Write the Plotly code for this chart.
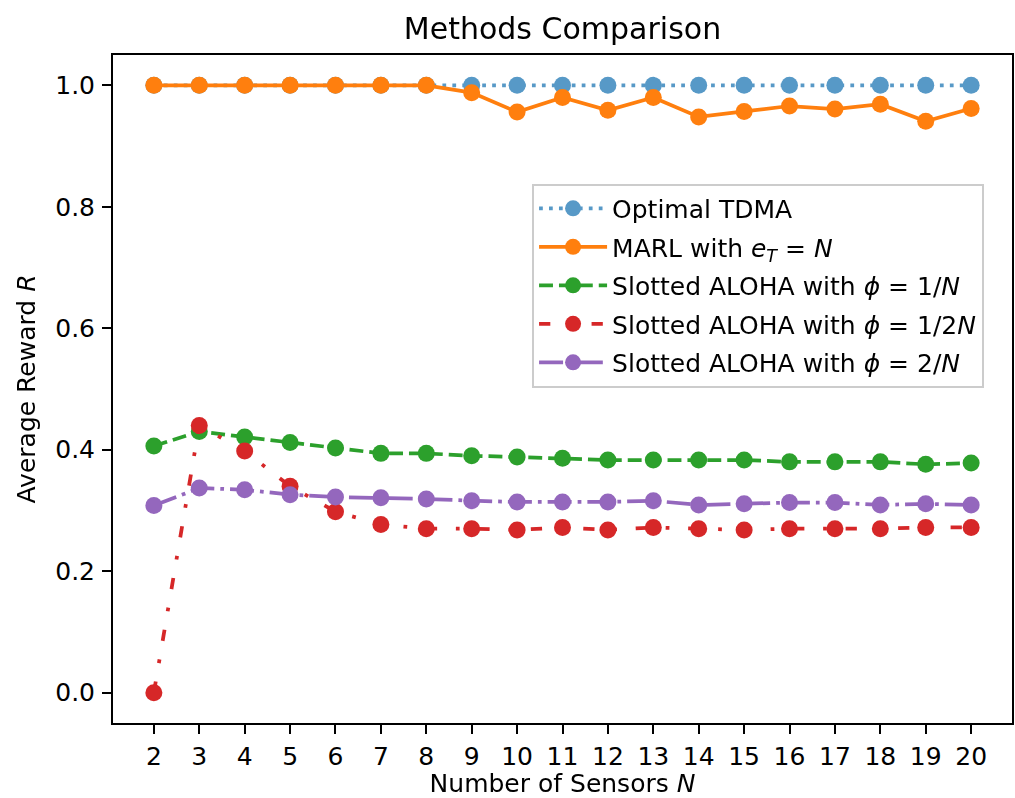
import plotly.graph_objects as go

N = list(range(2, 21))

optimal_tdma = [1.0] * 19
marl = [1.0, 1.0, 1.0, 1.0, 1.0, 1.0, 1.0, 0.988, 0.956, 0.980, 0.959, 0.980,
        0.948, 0.957, 0.966, 0.961, 0.969, 0.941, 0.962]
aloha_1n = [0.406, 0.430, 0.421, 0.412, 0.403, 0.394, 0.394, 0.390, 0.388, 0.386,
            0.383, 0.383, 0.383, 0.383, 0.380, 0.380, 0.380, 0.376, 0.378]
aloha_12n = [0.0, 0.440, 0.398, 0.340, 0.298, 0.277, 0.270, 0.270, 0.268, 0.272,
             0.268, 0.272, 0.270, 0.268, 0.270, 0.270, 0.270, 0.272, 0.272]
aloha_2n = [0.308, 0.337, 0.334, 0.326, 0.322, 0.321, 0.319, 0.316, 0.314, 0.314,
            0.314, 0.316, 0.309, 0.311, 0.313, 0.313, 0.309, 0.311, 0.309]

names = [
    "Optimal TDMA",
    "MARL with <i>e</i><sub><i>T</i></sub> = <i>N</i>",
    "Slotted ALOHA with <i>ϕ</i> = 1/<i>N</i>",
    "Slotted ALOHA with <i>ϕ</i> = 1/2<i>N</i>",
    "Slotted ALOHA with <i>ϕ</i> = 2/<i>N</i>",
]
series = [optimal_tdma, marl, aloha_1n, aloha_12n, aloha_2n]
colors = ["#1f77b4", "#ff7f0e", "#2ca02c", "#d62728", "#9467bd"]
dashes = ["3.75px,6.2px", "solid", "13.9px,6px",
          "11.25px,18.75px,3.75px,18.75px", "24px,6px,3.75px,6px"]
opacities = [0.75, 1, 1, 1, 1]

FONT = "DejaVu Sans, Liberation Sans, sans-serif"
FS = 25

fig = go.Figure()
for i, (nm, ys, c, d, op) in enumerate(zip(names, series, colors, dashes, opacities)):
    fig.add_trace(go.Scatter(
        x=N, y=ys, name=nm, mode="lines+markers",
        line=dict(color=c, width=3.75, dash=d),
        marker=dict(color=c, size=17, line=dict(width=0)),
        opacity=op, legendgroup=f"g{i}",
    ))

fig.update_layout(
    width=1015, height=798,
    margin=dict(l=113, r=1, t=55, b=73),
    paper_bgcolor="white", plot_bgcolor="white",
    font=dict(family=FONT, size=FS, color="black"),
    title=dict(text="Methods Comparison", x=0.5, xref="paper", xanchor="center",
               y=1 - 28 / 798, yref="container", yanchor="middle",
               font=dict(size=30, family=FONT, color="black")),
    showlegend=True,
    legend=dict(
        x=(533 - 113) / 901, y=(725 - 184) / 670, xanchor="left", yanchor="top",
        bgcolor="rgba(255,255,255,0.8)", bordercolor="#cccccc", borderwidth=2,
        font=dict(size=FS, family=FONT, color="black"),
        traceorder="grouped", tracegroupgap=3, itemwidth=68,
    ),
)
fig.update_xaxes(
    range=[1.1, 20.9], tickmode="array", tickvals=N, ticktext=[str(n) for n in N],
    showgrid=False, zeroline=False, showline=True, linecolor="black", linewidth=2,
    mirror=True, ticks="outside", ticklen=9, tickwidth=2, tickcolor="black",
    ticklabelstandoff=1, tickfont=dict(size=FS),
    title=dict(text="Number of Sensors <i>N</i>", standoff=8,
               font=dict(size=FS, family=FONT, color="black")),
)
fig.update_yaxes(
    range=[-0.05, 1.05], tickmode="array", tickvals=[0, 0.2, 0.4, 0.6, 0.8, 1.0],
    ticktext=["0.0", "0.2", "0.4", "0.6", "0.8", "1.0"],
    showgrid=False, zeroline=False, showline=True, linecolor="black", linewidth=2,
    mirror=True, ticks="outside", ticklen=9, tickwidth=2, tickcolor="black",
    ticklabelstandoff=2, tickfont=dict(size=FS),
    title=dict(text="Average Reward <i>R</i>", standoff=12,
               font=dict(size=FS, family=FONT, color="black")),
)

fig.write_html("out.html")
